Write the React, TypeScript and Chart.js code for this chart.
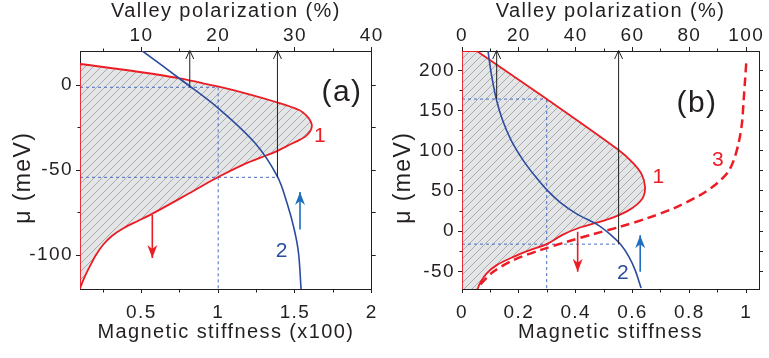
import React, { useEffect, useRef } from 'react';
import { Chart, registerables } from 'chart.js';

Chart.register(...registerables);

const FONT = "'Liberation Sans', Arial, Helvetica, sans-serif";
const INK = '#231f20';
const RED = '#ec1c24';
const BLUE_CURVE = '#2b4c9f';
const BLUE_GUIDE = '#4a6cc2';
const BLUE_ARROW = '#1e6fbd';

// ---------------- Panel (a) data ----------------
const A_X_MIN = 0.1;
const A_X_MAX = 2;
const A_Y_MIN = -120;
const A_Y_MAX = 20;
const A_POL_FACTOR = 20; // valley polarization (%) per stiffness unit (x100)
const A_X_MAJOR = [0.5, 1, 1.5, 2];
const A_X_MINOR = [0.25, 0.75, 1.25, 1.75];
const A_TOP_MAJOR = [10, 20, 30, 40];
const A_TOP_MINOR = [5, 15, 25, 35];
const A_Y_MAJOR = [0, -50, -100];
const A_Y_MINOR = [-25, -75];

// curve 1 (red, outline of the hatched region)
const A_CURVE1_X = [0.1, 0.4243, 0.7485, 0.9969, 1.2025, 1.3756, 1.5267, 1.578, 1.603, 1.61, 1.598, 1.565, 1.515, 1.45, 1.3756, 1.2803, 1.181, 0.9969, 0.792, 0.5754, 0.4761, 0.3853, 0.3075, 0.2492, 0.2038, 0.1649, 0.1324, 0.111, 0.1];
const A_CURVE1_Y = [12.35, 8.53, 3.94, -0.88, -5.47, -10, -14.7, -18.3, -21.5, -24.3, -27.4, -30.5, -33, -35.8, -39.2, -42.6, -46.1, -54.3, -64.7, -75.5, -80, -84.1, -88.8, -94.1, -100, -106.5, -112.4, -117.1, -119.6];
// curve 2 (blue)
const A_CURVE2_X = [0.5066, 0.7517, 1.0014, 1.2414, 1.386, 1.4489, 1.4962, 1.5235, 1.5397];
const A_CURVE2_Y = [20, 3.53, -13.7, -34.3, -53.9, -69.6, -85.3, -99, -120];
// dashed guides: horizontal [mu, stiffness end], vertical [stiffness, mu start]
const A_GUIDE_H = [[-1.35, 1.0], [-54.3, 1.386]];
const A_GUIDE_V = [[1.0, -1.35]];
// arrows [stiffness, mu from, mu to]
const A_ARROW_BLACK = [[0.815, -1.35, 20], [1.386, -54.3, 20]];
const A_ARROW_RED = [[0.571, -76.5, -101.8]];
const A_ARROW_BLUE = [[1.533, -85, -63]];
const A_LABELS = [
  { text: '1', x: 1.667, y: -30.4, kind: 'red' },
  { text: '2', x: 1.417, y: -98, kind: 'blue' },
  { text: '(a)', x: 1.806, y: -4.7, kind: 'panel' },
];

// ---------------- Panel (b) data ----------------
const B_X_MIN = 0;
const B_X_MAX = 1.045;
const B_Y_MIN = -72;
const B_Y_MAX = 224;
const B_POL_FACTOR = 100;
const B_X_MAJOR = [0, 0.2, 0.4, 0.6, 0.8, 1];
const B_X_MINOR = [0.1, 0.3, 0.5, 0.7, 0.9];
const B_TOP_MAJOR = [0, 20, 40, 60, 80, 100];
const B_TOP_MINOR = [10, 30, 50, 70, 90];
const B_Y_MAJOR = [-50, 0, 50, 100, 150, 200];
const B_Y_MINOR = [-25, 25, 75, 125, 175];

const B_CURVE1_X = [0.052, 0.298, 0.551, 0.603, 0.633, 0.644, 0.638, 0.615, 0.58, 0.535, 0.474, 0.415, 0.357, 0.298, 0.239, 0.181, 0.122, 0.087, 0.063, 0.055];
const B_CURVE1_Y = [224, 164.2, 100.8, 84.2, 70, 55, 42.7, 33, 24.5, 17.5, 10.5, 4.5, -4, -16.2, -23.6, -32, -42.3, -52.6, -65, -72];
const B_CURVE2_X = [0.0915, 0.1039, 0.1215, 0.1426, 0.1725, 0.2148, 0.257, 0.2993, 0.3486, 0.4049, 0.4789, 0.5246, 0.5599, 0.588, 0.6092, 0.6303];
const B_CURVE2_Y = [223.9, 194.1, 163, 138.1, 113.2, 88.3, 68.4, 51, 34.8, 21.1, 7.5, -5, -17.4, -32.3, -48.5, -70.9];
const B_CURVE3_X = [1.0, 0.996, 0.991, 0.985, 0.973, 0.955, 0.935, 0.897, 0.838, 0.744, 0.65, 0.556, 0.462, 0.369, 0.275, 0.181, 0.11, 0.063, 0.055];
const B_CURVE3_Y = [208.6, 187.8, 163, 134, 109, 87, 73, 59.3, 44.8, 28.2, 15.8, 5.4, -3.7, -13.3, -23.6, -36, -50.6, -67, -72];
const B_GUIDE_H = [[164.2, 0.298], [-16.2, 0.551]];
const B_GUIDE_V = [[0.298, 164.2]];
const B_ARROW_BLACK = [[0.122, 164.2, 224], [0.551, -16.2, 224]];
const B_ARROW_RED = [[0.407, -0.8, -50.6]];
const B_ARROW_BLUE = [[0.627, -50.6, -5]];
const B_LABELS = [
  { text: '1', x: 0.693, y: 66.6, kind: 'red' },
  { text: '2', x: 0.568, y: -52.6, kind: 'blue' },
  { text: '3', x: 0.903, y: 88.3, kind: 'red' },
  { text: '(b)', x: 0.827, y: 158.6, kind: 'panel' },
];

const Y_TITLE = 'μ (meV)  ';

type Pt = { x: number; y: number };
const pts = (xs: number[], ys: number[]): Pt[] => xs.map((x, i) => ({ x, y: ys[i] }));

interface PanelSpec {
  xMin: number; xMax: number; yMin: number; yMax: number; pol: number;
  xMajor: number[]; xMinor: number[]; topMajor: number[]; topMinor: number[];
  yMajor: number[]; yMinor: number[];
  curve1: Pt[]; curve2: Pt[]; curve3: Pt[] | null;
  guideH: number[][]; guideV: number[][];
  arrowBlack: number[][]; arrowRed: number[][]; arrowBlue: number[][];
  labels: { text: string; x: number; y: number; kind: string }[];
  xTitle: string;
  leftWidth: number; rightWidth: number; yTitlePad: number;
}

const PANEL_A: PanelSpec = {
  xMin: A_X_MIN, xMax: A_X_MAX, yMin: A_Y_MIN, yMax: A_Y_MAX, pol: A_POL_FACTOR,
  xMajor: A_X_MAJOR, xMinor: A_X_MINOR, topMajor: A_TOP_MAJOR, topMinor: A_TOP_MINOR,
  yMajor: A_Y_MAJOR, yMinor: A_Y_MINOR,
  curve1: pts(A_CURVE1_X, A_CURVE1_Y), curve2: pts(A_CURVE2_X, A_CURVE2_Y), curve3: null,
  guideH: A_GUIDE_H, guideV: A_GUIDE_V,
  arrowBlack: A_ARROW_BLACK, arrowRed: A_ARROW_RED, arrowBlue: A_ARROW_BLUE,
  labels: A_LABELS, xTitle: 'Magnetic stiffness (x100)',
  leftWidth: 80, rightWidth: 12, yTitlePad: 12.5,
};

const PANEL_B: PanelSpec = {
  xMin: B_X_MIN, xMax: B_X_MAX, yMin: B_Y_MIN, yMax: B_Y_MAX, pol: B_POL_FACTOR,
  xMajor: B_X_MAJOR, xMinor: B_X_MINOR, topMajor: B_TOP_MAJOR, topMinor: B_TOP_MINOR,
  yMajor: B_Y_MAJOR, yMinor: B_Y_MINOR,
  curve1: pts(B_CURVE1_X, B_CURVE1_Y), curve2: pts(B_CURVE2_X, B_CURVE2_Y), curve3: pts(B_CURVE3_X, B_CURVE3_Y),
  guideH: B_GUIDE_H, guideV: B_GUIDE_V,
  arrowBlack: B_ARROW_BLACK, arrowRed: B_ARROW_RED, arrowBlue: B_ARROW_BLUE,
  labels: B_LABELS, xTitle: 'Magnetic stiffness',
  leftWidth: 77, rightWidth: 10, yTitlePad: 7.5,
};

function hatchPattern(): CanvasPattern | string {
  const c = document.createElement('canvas');
  c.width = 8; c.height = 8;
  const g = c.getContext('2d');
  if (!g) return '#e4e5e7';
  g.fillStyle = '#e4e5e7';
  g.fillRect(0, 0, 8, 8);
  g.strokeStyle = '#9c9c9c';
  g.lineWidth = 0.8;
  g.beginPath();
  g.moveTo(-1, 9); g.lineTo(9, -1);
  g.moveTo(-1, 1); g.lineTo(1, -1);
  g.moveTo(7, 9); g.lineTo(9, 7);
  g.stroke();
  return g.createPattern(c, 'repeat') || '#e4e5e7';
}

// closed outline of the hatched region: left axis edge + curve (corners doubled so they stay sharp)
const outline = (c: Pt[], xMin: number, yMin: number): Pt[] => {
  const f = c[0];
  const corner = { x: xMin, y: f.y };
  return [{ x: xMin, y: yMin }, corner, corner, f, f, ...c.slice(1)];
};

const has = (arr: number[], v: number) => arr.some((m) => Math.abs(m - v) < 1e-9);
const tickList = (a: number[], b: number[]) => [...a, ...b].sort((p, q) => p - q).map((value) => ({ value }));
const minorDash = (minor: number[], fromAxis: boolean) => (ctx: any) => {
  const v = ctx && ctx.tick ? ctx.tick.value : NaN;
  if (!has(minor, v)) return [];
  return fromAxis ? [2.5, 10] : [0, 1.5, 2.5, 10];
};

const lineDs = (data: Pt[], color: string, width: number, dash: number[], extra: any = {}) => ({
  type: 'line',
  data,
  borderColor: color,
  borderWidth: width,
  borderDash: dash,
  pointRadius: 0,
  pointHoverRadius: 0,
  fill: false,
  tension: 0,
  ...extra,
});

function buildConfig(p: PanelSpec): any {
  const datasets: any[] = [];
  for (const [x, from, to] of p.arrowBlack) datasets.push(lineDs([{ x, y: from }, { x, y: to }], INK, 1, []));
  for (const [x, from, to] of p.arrowRed) datasets.push(lineDs([{ x, y: from }, { x, y: to }], RED, 1.6, []));
  for (const [x, from, to] of p.arrowBlue) datasets.push(lineDs([{ x, y: from }, { x, y: to }], BLUE_ARROW, 1.6, []));
  datasets.push(lineDs(p.curve2, BLUE_CURVE, 1.6, [], { tension: 0.35 }));
  datasets.push(lineDs(outline(p.curve1, p.xMin, p.yMin), RED, 1.8, [], { tension: 0.3, fill: 'shape', backgroundColor: hatchPattern() }));
  if (p.curve3) datasets.push(lineDs(p.curve3, RED, 2.5, [9, 5], { tension: 0.3 }));
  for (const [y, xEnd] of p.guideH) datasets.push(lineDs([{ x: p.xMin, y }, { x: xEnd, y }], BLUE_GUIDE, 1, [3, 3]));
  for (const [x, yStart] of p.guideV) datasets.push(lineDs([{ x, y: yStart }, { x, y: p.yMin }], BLUE_GUIDE, 1, [3, 3]));

  const tickFont = { family: FONT, size: 19 };
  const titleFont = { family: FONT, size: 20, lineHeight: 1 };
  const gridBase = { drawOnChartArea: false, drawTicks: true, tickLength: 4, tickColor: INK, tickWidth: 1, color: INK };
  const border = { display: true, color: INK, width: 1 };
  const fmt = (major: number[]) => (v: any) => (has(major, Number(v)) ? String(Number(v)) : '');

  return {
    type: 'line',
    data: { datasets },
    options: {
      responsive: false,
      animation: false,
      events: [],
      layout: { padding: 0 },
      plugins: {
        legend: { display: false },
        tooltip: { enabled: false },
        filler: { drawTime: 'beforeDatasetsDraw' },
      },
      scales: {
        x: {
          type: 'linear', position: 'bottom', min: p.xMin, max: p.xMax,
          afterBuildTicks: (s: any) => { s.ticks = tickList(p.xMajor, p.xMinor); },
          ticks: { callback: fmt(p.xMajor), font: tickFont, color: INK, padding: 8, autoSkip: false, maxRotation: 0 },
          grid: { ...gridBase, tickBorderDash: minorDash(p.xMinor, true) },
          border,
          title: { display: true, text: p.xTitle, font: titleFont, color: INK, padding: { top: 0, bottom: 16 } },
          afterFit: (s: any) => { s.height = 69; },
        },
        xt: {
          type: 'linear', position: 'top', min: p.xMin * p.pol, max: p.xMax * p.pol,
          afterBuildTicks: (s: any) => { s.ticks = tickList(p.topMajor, p.topMinor); },
          ticks: { callback: fmt(p.topMajor), font: tickFont, color: INK, padding: 0, autoSkip: false, maxRotation: 0 },
          grid: { ...gridBase, tickBorderDash: minorDash(p.topMinor, false) },
          border,
          title: { display: true, text: 'Valley polarization (%)', font: titleFont, color: INK, padding: { top: 1, bottom: 0 } },
          afterFit: (s: any) => { s.height = 51; },
        },
        y: {
          type: 'linear', position: 'left', min: p.yMin, max: p.yMax,
          afterBuildTicks: (s: any) => { s.ticks = tickList(p.yMajor, p.yMinor); },
          ticks: { callback: fmt(p.yMajor), font: tickFont, color: INK, padding: 3, autoSkip: false },
          grid: { ...gridBase, tickBorderDash: minorDash(p.yMinor, false) },
          border,
          title: { display: true, text: Y_TITLE, font: { family: FONT, size: 23, lineHeight: 1 }, color: INK, padding: { top: p.yTitlePad, bottom: 0 } },
          afterFit: (s: any) => { s.width = p.leftWidth; },
        },
        yr: {
          type: 'linear', position: 'right', min: p.yMin, max: p.yMax,
          afterBuildTicks: (s: any) => { s.ticks = tickList(p.yMajor, p.yMinor); },
          ticks: { display: false, autoSkip: false },
          grid: { ...gridBase },
          border,
          afterFit: (s: any) => { s.width = p.rightWidth; },
        },
      },
    },
  };
}

function makeOverlay(p: PanelSpec) {
  return {
    id: 'overlay',
    beforeDraw(chart: any) {
      (chart.ctx as any).letterSpacing = '1.4px';
    },
    afterDatasetsDraw(chart: any) {
      const ctx: CanvasRenderingContext2D = chart.ctx;
      const xs = chart.scales.x;
      const ys = chart.scales.y;
      const area = chart.chartArea;
      ctx.save();
      ctx.beginPath();
      ctx.rect(area.left - 2, area.top - 2, area.right - area.left + 4, area.bottom - area.top + 4);
      ctx.clip();
      const heads = (list: number[][], color: string, open: boolean) => {
        for (const [x, from, to] of list) {
          const px = xs.getPixelForValue(x);
          const tip = ys.getPixelForValue(to);
          const start = ys.getPixelForValue(from);
          const s = tip > start ? 1 : -1;
          ctx.strokeStyle = color;
          ctx.fillStyle = color;
          ctx.setLineDash([]);
          if (open) {
            ctx.lineWidth = 1;
            ctx.beginPath();
            ctx.moveTo(px - 4, tip - s * 8);
            ctx.lineTo(px, tip + s * 0.5);
            ctx.lineTo(px + 4, tip - s * 8);
            ctx.stroke();
          } else {
            ctx.beginPath();
            ctx.moveTo(px, tip);
            ctx.lineTo(px - 5, tip - s * 13);
            ctx.lineTo(px, tip - s * 9);
            ctx.lineTo(px + 5, tip - s * 13);
            ctx.closePath();
            ctx.fill();
          }
        }
      };
      heads(p.arrowBlack, INK, true);
      heads(p.arrowRed, RED, false);
      heads(p.arrowBlue, BLUE_ARROW, false);
      ctx.restore();

      ctx.save();
      ctx.textAlign = 'center';
      ctx.textBaseline = 'middle';
      for (const l of p.labels) {
        const size = l.kind === 'panel' ? 30 : 21;
        ctx.font = `${size}px ${FONT}`;
        ctx.fillStyle = l.kind === 'red' ? RED : l.kind === 'blue' ? BLUE_CURVE : INK;
        ctx.fillText(l.text, xs.getPixelForValue(l.x), ys.getPixelForValue(l.y));
      }
      ctx.restore();
    },
  };
}

function Panel({ spec, left, width }: { spec: PanelSpec; left: number; width: number }) {
  const ref = useRef<HTMLCanvasElement>(null);
  useEffect(() => {
    const canvas = ref.current;
    if (!canvas) return;
    const cfg = buildConfig(spec);
    cfg.plugins = [makeOverlay(spec)];
    const chart = new Chart(canvas, cfg);
    return () => chart.destroy();
  }, [spec]);
  return (
    <canvas
      ref={ref}
      width={width}
      height={358}
      style={{ position: 'absolute', left, top: 0, width, height: 358 }}
    />
  );
}

export default function App() {
  return (
    <div style={{ position: 'absolute', left: 0, top: 0, width: 769, height: 358, background: '#fff', overflow: 'hidden' }}>
      <Panel spec={PANEL_A} left={0} width={385} />
      <Panel spec={PANEL_B} left={385} width={384} />
    </div>
  );
}
